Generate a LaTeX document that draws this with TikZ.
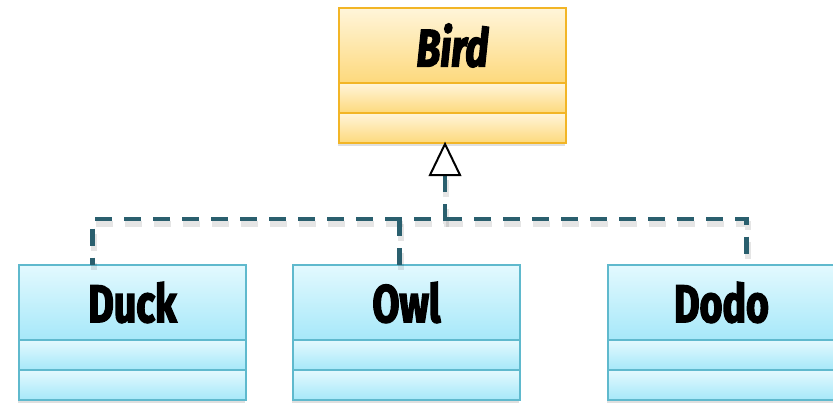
\documentclass[tikz,border=0pt]{standalone}
\usepackage{fontspec}
\newfontfamily\umlfont[FakeStretch=0.74, BoldFeatures={FakeBold=2.6}, BoldItalicFeatures={FakeBold=2.6}]{Fira Sans}
\usetikzlibrary{positioning,shadows}
\definecolor{birdline}{HTML}{F2B526}
\definecolor{birdtop}{HTML}{FFF5DA}
\definecolor{birdbot}{HTML}{FDD97C}
\definecolor{kidline}{HTML}{5FB9CD}
\definecolor{kidtop}{HTML}{E3F9FE}
\definecolor{kidbot}{HTML}{A6E8F9}
\definecolor{linkcol}{HTML}{2A5F6E}
\tikzset{
  box/.style={draw, line width=1.2pt, minimum width=227pt, inner sep=0pt, outer sep=0pt,
    drop shadow={opacity=0.25, shadow xshift=-1pt, shadow yshift=-3pt}},
  birdbox/.style={box, draw=birdline, top color=birdtop, bottom color=birdbot},
  kidbox/.style={box, draw=kidline, top color=kidtop, bottom color=kidbot},
  head/.style={minimum height=75pt, font=\umlfont\bfseries\fontsize{53}{53}\selectfont},
  part/.style={minimum height=30pt},
  link/.style={draw=linkcol, line width=4.5pt, dash pattern=on 17pt off 12pt,
    preaction={draw=black, draw opacity=0.1, line width=6pt, dash pattern=on 17pt off 12pt,
      transform canvas={shift={(1pt,-5pt)}}}},
  tribox/.style={draw=black, fill=white, line width=2pt, line join=miter}
}
\begin{document}
\begin{tikzpicture}[x=1pt, y=-1pt]
  \clip (0,0) rectangle (833,402);
  % superclass
  \node[birdbox, head, anchor=north west] (bird) at (339,8) {\itshape Bird};
  \node[birdbox, part, below=0pt of bird] (bird2) {};
  \node[birdbox, part, below=0pt of bird2] (bird3) {};
  % subclasses
  \node[kidbox, head, anchor=north west] (duck) at (19,265) {Duck};
  \node[kidbox, part, below=0pt of duck] (duck2) {};
  \node[kidbox, part, below=0pt of duck2] (duck3) {};
  \node[kidbox, head, anchor=north west] (owl) at (293,265) {Owl};
  \node[kidbox, part, below=0pt of owl] (owl2) {};
  \node[kidbox, part, below=0pt of owl2] (owl3) {};
  \node[kidbox, head, anchor=north west] (dodo) at (608,265) {Dodo};
  \node[kidbox, part, below=0pt of dodo] (dodo2) {};
  \node[kidbox, part, below=0pt of dodo2] (dodo3) {};
  % realization links
  \coordinate (tip) at (445,144);
  \coordinate[below=31pt of tip] (tri);
  \coordinate (bus) at (445,219);
  \coordinate (duckin) at ([xshift=-40pt]duck.north);
  \coordinate (owlin) at ([xshift=-7pt]owl.north);
  \coordinate (dodoin) at ([xshift=25pt]dodo.north);
  \draw[link] (tri) -- (bus) -| (duckin);
  \draw[link] (bus) -| (dodoin);
  \draw[link] (owlin |- bus) -- (owlin);
  \draw[tribox] (tip) -- ([xshift=-15pt]tri) -- ([xshift=15pt]tri) -- cycle;
\end{tikzpicture}
\end{document}
